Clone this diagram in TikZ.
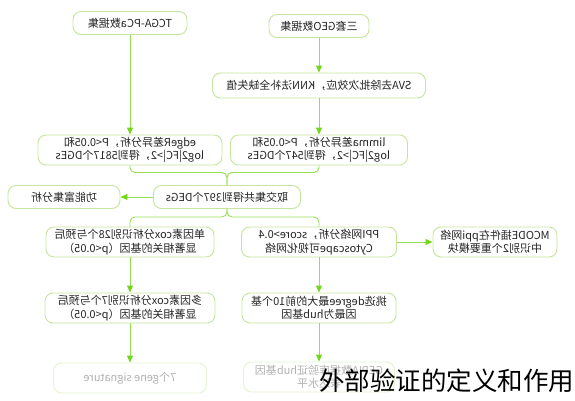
\documentclass[tikz,border=0pt]{standalone}
\usepackage{fontspec}
\setmainfont{Noto Sans CJK SC}
\usetikzlibrary{arrows.meta}
\definecolor{boxgreen}{HTML}{C5E59C}
\definecolor{flowgreen}{HTML}{96DE55}
\definecolor{tipgreen}{HTML}{74D61C}

\begin{document}
\begin{tikzpicture}[x=1pt, y=1pt,
  box/.style   ={fill=white, draw=boxgreen, line width=0.9pt,
                 rounded corners=8pt, inner sep=2pt, align=center,
                 minimum height=30pt, text=black!85,
                 font=\fontsize{11}{13.5}\selectfont},
  slim/.style  ={minimum height=23pt},
  faded/.style ={draw=boxgreen!45, text=black!30},
  arr/.style   ={-{Triangle[length=7pt,width=6pt,color=tipgreen]},
                 flowgreen, line width=0.9pt},
  link/.style  ={flowgreen, line width=0.9pt, rounded corners=5pt}
]
  \useasboundingbox (0,0) rectangle (575,-400);
  % the whole chart is printed mirror-wise
  \begin{scope}[xshift=575pt, xscale=-1, transform shape]
  \node[box,slim,minimum width=114pt] (tcga)  at (445,-23)   {TCGA-PCa数据集};
  \node[box,slim,minimum width=100pt] (geo)   at (256,-26)   {三套GEO数据集};
  \node[box,minimum height=25pt,minimum width=213pt]
                                      (sva)   at (256,-85.5) {SVA去除批次效应，KNN法补全缺失值};
  \node[box,minimum width=184pt]      (edger) at (445,-150)  {edgeR差异分析，P<0.05和\\log2|FC|>2，得到5817个DGEs};
  \node[box,minimum width=177pt]      (limma) at (256,-150)  {limma差异分析，P<0.05和\\log2|FC|>2，得到547个DGEs};
  \node[box,slim,minimum width=147pt] (inter) at (348,-197)  {取交集共得到397个DEGs};
  \node[box,slim,minimum width=112pt] (func)  at (511,-197)  {功能富集分析};
  \node[box,minimum width=168pt]      (cox1)  at (445,-242)  {单因素cox分析识别28个与预后\\显著相关的基因（p<0.05）};
  \node[box,minimum width=155pt]      (ppi)   at (256,-242)  {PPI网络分析，score>0.4\\Cytoscape可视化网络};
  \node[box,minimum width=124pt]      (mcode) at (80,-242)   {MCODE插件在ppi网络\\中识别2个重要模块};
  \node[box,minimum width=170pt]      (cox2)  at (445,-308)  {多因素cox分析识别7个与预后\\显著相关的基因（p<0.05）};
  \node[box,minimum width=154pt]      (hub)   at (256,-308)  {挑选degree最大的前10个基\\因最为hub基因};
  \node[box,faded,minimum width=153pt] (sig)  at (445,-378)  {7个gene signature};
  \node[box,faded,minimum width=151pt] (gepia) at (256,-377) {GEPIA数据库验证hub基因\\表达水平};

  \draw[arr] (tcga) -- (edger);
  \draw[arr] (geo) -- (sva);
  \draw[arr] (sva) -- (limma);
  \draw[link] (edger.south) -- ++(0,-7) -| (inter.north);
  \draw[link] (limma.south) -- ++(0,-7) -| (inter.north);
  \draw[arr] (inter) -- (func);
  \draw[link] (inter.south) -- ++(0,-8) -| (cox1.north);
  \draw[link] (inter.south) -- ++(0,-8) -| (ppi.north);
  \draw[arr] (ppi) -- (mcode);
  \draw[arr] (cox1) -- (cox2);
  \draw[arr] (cox2) -- (sig);
  \draw[arr] (ppi) -- (hub);
  \draw[arr] (hub) -- (gepia);
  \end{scope}

  \node[anchor=west, inner sep=0pt, font=\fontsize{25.5}{25.5}\selectfont]
    (mark) at (319,-381) {外部验证的定义和作用};
\end{tikzpicture}
\end{document}
